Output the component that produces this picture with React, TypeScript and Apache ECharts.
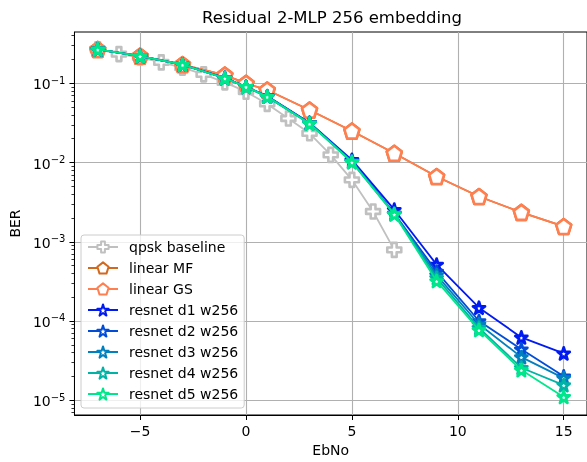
import React, { useEffect, useRef } from "react";
import * as echarts from "echarts";

const TITLE = "Residual 2-MLP 256 embedding";
const X_NAME = "EbNo";
const Y_NAME = "BER";

const EBNO_BASE = [-7, -6, -5, -4, -3, -2, -1, 0, 1, 2, 3, 4, 5, 6, 7];
const BER_QPSK = [0.27, 0.234, 0.213, 0.184, 0.158, 0.13, 0.103, 0.0785, 0.055, 0.036, 0.0234, 0.0125, 0.00605, 0.00241, 0.00079];

const EBNO = [-7, -5, -3, -1, 0, 1, 3, 5, 7, 9, 11, 13, 15];
const BER_MF = [0.268, 0.221, 0.173, 0.127, 0.1, 0.0824, 0.0461, 0.025, 0.0131, 0.00667, 0.00373, 0.00235, 0.00156];
const BER_GS = [0.268, 0.221, 0.173, 0.127, 0.1, 0.0824, 0.0461, 0.025, 0.0131, 0.00667, 0.00373, 0.00235, 0.00156];
const BER_D1 = [0.268, 0.221, 0.172, 0.117, 0.0906, 0.069, 0.0318, 0.0108, 0.00254, 0.000515, 0.000147, 6.2e-5, 3.9e-5];
const BER_D2 = [0.268, 0.221, 0.172, 0.117, 0.0906, 0.068, 0.0315, 0.0104, 0.00228, 0.00042, 0.0001, 4.4e-5, 2.0e-5];
const BER_D3 = [0.268, 0.221, 0.172, 0.116, 0.0905, 0.068, 0.0313, 0.0103, 0.00226, 0.00038, 9.1e-5, 3.5e-5, 1.9e-5];
const BER_D4 = [0.268, 0.221, 0.172, 0.116, 0.0904, 0.068, 0.0312, 0.0102, 0.00224, 0.00035, 8.2e-5, 2.57e-5, 1.55e-5];
const BER_D5 = [0.268, 0.221, 0.172, 0.116, 0.0903, 0.0678, 0.031, 0.0101, 0.00222, 0.00032, 7.7e-5, 2.4e-5, 1.1e-5];

const SERIES_NAMES = [
  "qpsk baseline",
  "linear MF",
  "linear GS",
  "resnet d1 w256",
  "resnet d2 w256",
  "resnet d3 w256",
  "resnet d4 w256",
  "resnet d5 w256",
];
const SERIES_COLORS = ["#c0c0c0", "#d2691e", "#ff7f50", "#001af2", "#004dd9", "#0080bf", "#00b3a6", "#00e68c"];

const X_TICKS = [-5, 0, 5, 10, 15];
const Y_TICKS = [1e-5, 1e-4, 1e-3, 1e-2, 1e-1];
const Y_MINOR = (() => {
  const out: number[] = [];
  for (let e = -6; e <= -1; e++) for (let m = 2; m <= 9; m++) out.push(m * Math.pow(10, e));
  return out;
})();
const X_MIN = -8.1;
const X_MAX = 16.1;
const Y_MIN = 6.5e-6;
const Y_MAX = 0.445;

const PENTAGON = "path://M50,0 L97.55,34.55 L79.39,90.45 L20.61,90.45 L2.45,34.55 Z";
const STAR =
  "path://M50,0 L61.2,34.6 L97.6,34.5 L68.2,55.9 L79.4,90.5 L50,69.1 L20.6,90.5 L31.8,55.9 L2.4,34.5 L38.8,34.6 Z";
const PLUS = "path://M33,0 H67 V33 H100 V67 H67 V100 H33 V67 H0 V33 H33 Z";

const FONT = "DejaVu Sans";

export default function App() {
  const ref = useRef<HTMLDivElement>(null);
  useEffect(() => {
    if (!ref.current) return;
    const chart = echarts.init(ref.current, undefined, { renderer: "svg" });
    const pairs = (xs: number[], ys: number[]) => xs.map((x, i) => [x, ys[i]]);
    const allData = [
      pairs(EBNO_BASE, BER_QPSK),
      pairs(EBNO, BER_MF),
      pairs(EBNO, BER_GS),
      pairs(EBNO, BER_D1),
      pairs(EBNO, BER_D2),
      pairs(EBNO, BER_D3),
      pairs(EBNO, BER_D4),
      pairs(EBNO, BER_D5),
    ];
    const symbols = [PLUS, PENTAGON, PENTAGON, STAR, STAR, STAR, STAR, STAR];
    const sizes = [14, 15, 15, 12, 12, 12, 12, 12];
    const borders = [2.6, 2.6, 2.6, 2.8, 2.8, 2.8, 2.8, 2.8];
    const series = SERIES_NAMES.map((name, i) => ({
      name,
      type: "line",
      data: allData[i],
      symbol: symbols[i],
      symbolSize: sizes[i],
      showSymbol: true,
      lineStyle: { color: SERIES_COLORS[i], width: 1.8 },
      itemStyle: { color: "#ffffff", borderColor: SERIES_COLORS[i], borderWidth: borders[i], borderJoin: "round" },
      emphasis: { disabled: true },
      z: 2 + i,
    }));
    const supNum = (v: number) => Math.round(Math.log10(v));
    chart.setOption({
      animation: false,
      textStyle: { fontFamily: FONT },
      graphic: [
        {
          type: "text",
          x: 332,
          y: 17,
          style: {
            text: TITLE,
            font: `16.5px '${FONT}'`,
            fill: "#000",
            textAlign: "center",
            textVerticalAlign: "middle",
          },
        },
      ],
      grid: {
        left: 74,
        top: 32,
        width: 516,
        height: 384,
        show: true,
        borderColor: "#000",
        borderWidth: 1,
        backgroundColor: "transparent",
      },
      legend: {
        orient: "vertical",
        left: 81,
        top: 235,
        data: SERIES_NAMES,
        itemWidth: 30,
        itemHeight: 14,
        itemGap: 7,
        padding: [5, 6, 7, 6],
        backgroundColor: "rgba(255,255,255,0.8)",
        borderColor: "#cccccc",
        borderWidth: 1,
        borderRadius: 3,
        textStyle: { fontFamily: FONT, fontSize: 14, color: "#000", padding: [0, 0, 0, 6], lineHeight: 14 },
        selectedMode: false,
      },
      xAxis: {
        type: "value",
        min: X_MIN,
        max: X_MAX,
        name: X_NAME,
        nameLocation: "middle",
        nameGap: 28,
        nameTextStyle: { fontFamily: FONT, fontSize: 14, color: "#000" },
        axisLine: { show: true, onZero: false, lineStyle: { color: "#000", width: 1 } },
        axisTick: { show: true, length: 5, customValues: X_TICKS, lineStyle: { color: "#000" } },
        axisLabel: {
          customValues: X_TICKS,
          margin: 9,
          fontFamily: FONT,
          fontSize: 14,
          color: "#000",
          formatter: (v: number) => (v < 0 ? "\u2212" + Math.abs(v) : String(v)),
        },
        splitLine: { show: true, lineStyle: { color: "#b0b0b0", width: 1.1 } },
      },
      yAxis: [
        {
          type: "log",
          min: Y_MIN,
          max: Y_MAX,
          position: "left",
          name: Y_NAME,
          nameLocation: "middle",
          nameGap: 52,
          nameTextStyle: { fontFamily: FONT, fontSize: 14, color: "#000" },
          axisLine: { show: true, onZero: false, lineStyle: { color: "#000", width: 1 } },
          axisTick: { show: true, length: 5, customValues: Y_TICKS, lineStyle: { color: "#000" } },
          axisLabel: {
            customValues: Y_TICKS,
            margin: 9,
            color: "#000",
            formatter: (v: number) => `{b|10}{s|\u2212${Math.abs(supNum(v))}}`,
            rich: {
              b: { fontFamily: FONT, fontSize: 14, color: "#000", verticalAlign: "bottom" },
              s: { fontFamily: FONT, fontSize: 10, color: "#000", verticalAlign: "bottom", padding: [0, 0, 6, 0] },
            },
          },
          splitLine: { show: true, lineStyle: { color: "#b0b0b0", width: 1.1 } },
        },
        {
          type: "log",
          min: Y_MIN,
          max: Y_MAX,
          position: "left",
          axisLine: { show: false, onZero: false },
          axisTick: { show: true, length: 3, customValues: Y_MINOR, lineStyle: { color: "#000", width: 0.8 } },
          axisLabel: { show: false },
          splitLine: { show: false },
        },
      ],
      series,
    });
    return () => chart.dispose();
  }, []);
  return <div ref={ref} style={{ position: "fixed", left: 0, top: 0, width: 587, height: 462 }} />;
}
